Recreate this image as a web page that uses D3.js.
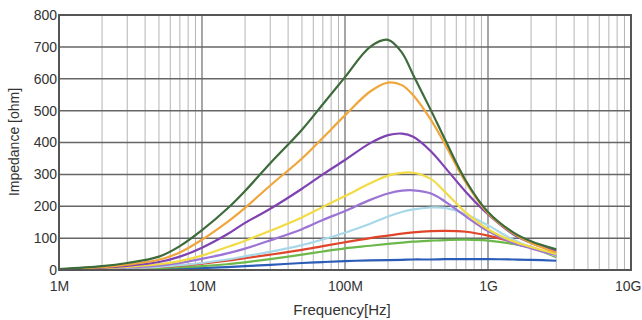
<!DOCTYPE html>
<html><head><meta charset="utf-8">
<script src="https://cdn.jsdelivr.net/npm/d3@7"></script>
<style>
html,body{margin:0;padding:0;background:#fff;}
svg{display:block;}
text{font-family:"Liberation Sans","Arial",sans-serif;fill:#333;}
</style></head>
<body>
<svg id="chart" width="642" height="320"></svg>
<script>
// frequencies in MHz
const freqs = [1,2,3,5,7,10,15,20,30,50,70,100,150,200,250,300,400,500,700,1000,1500,2000,3000];
const darkGreen = [3,12,22,42,75,125,192,248,335,440,520,605,700,722,682,612,500,410,280,182,118,90,65];
const orange    = [2,9,17,32,55,95,150,195,265,350,415,485,560,588,580,548,470,395,275,178,115,85,55];
const purple    = [2,7,13,25,42,70,112,148,192,255,300,345,398,423,428,418,372,322,245,175,112,85,60];
const yellow    = [1,5,10,18,28,45,72,92,123,165,198,232,272,296,305,305,285,245,180,128,90,72,50];
const violet    = [1,4,8,14,22,35,52,67,93,128,157,185,220,240,249,250,240,215,168,122,85,68,47];
const lightBlue = [1,3,6,10,15,22,33,43,57,78,96,117,145,168,182,190,196,195,175,140,95,72,44];
const red       = [1,3,6,10,14,20,29,37,48,63,75,87,100,108,114,118,122,123,120,108,88,72,43];
const green     = [0,2,4,6,9,12,18,24,34,48,58,68,76,82,86,89,92,94,95,92,82,70,40];
const blue      = [0,1,2,3,4,6,9,12,16,22,25,28,30,31,32,33,33,34,34,34,33,32,29];

const seriesNames = ["blue","green","red","lightBlue","violet","yellow","purple","orange","darkGreen"];
const seriesValues = [blue,green,red,lightBlue,violet,yellow,purple,orange,darkGreen];
const seriesColors = ["#2a5cb8","#6cb84a","#e0452a","#a8d8e8","#9b74d6","#f2dc45","#7f42b2","#f0a63c","#3d6b3a"];

const xTickValues = [1,10,100,1000,10000];
const xTickLabels = ["1M","10M","100M","1G","10G"];
const yTickValues = [0,100,200,300,400,500,600,700,800];

(function(){
const svg = d3.select("#chart");
const mL = 59, mR = 631, mT = 15, mB = 270;
const x = d3.scaleLog().domain([1,10000]).range([mL,mR]);
const y = d3.scaleLinear().domain([0,800]).range([mB,mT]);

// minor vertical grid
const minors = [];
for (let d=1; d<10000; d*=10) for (let k=2;k<=9;k++) minors.push(d*k);
svg.append("g").selectAll("line").data(minors).join("line")
  .attr("x1",d=>x(d)).attr("x2",d=>x(d)).attr("y1",mT).attr("y2",mB)
  .attr("stroke","#b4b4b4").attr("stroke-width",1);
// major vertical grid
svg.append("g").selectAll("line").data(xTickValues).join("line")
  .attr("x1",d=>x(d)).attr("x2",d=>x(d)).attr("y1",mT).attr("y2",mB)
  .attr("stroke","#777").attr("stroke-width",1.3);
// horizontal grid
svg.append("g").selectAll("line").data(yTickValues).join("line")
  .attr("x1",mL).attr("x2",mR).attr("y1",d=>y(d)).attr("y2",d=>y(d))
  .attr("stroke","#666").attr("stroke-width",1.5);

// curves
const line = d3.line().x(d=>x(d[0])).y(d=>y(d[1])).curve(d3.curveCatmullRom.alpha(0.5));
seriesValues.forEach((vals,i)=>{
  svg.append("path").datum(freqs.map((f,j)=>[f,vals[j]]))
    .attr("d",line).attr("fill","none")
    .attr("stroke",seriesColors[i]).attr("stroke-width",2.2)
    .attr("class","s-"+seriesNames[i]);
});

// frame
svg.append("rect").attr("x",mL).attr("y",mT).attr("width",mR-mL).attr("height",mB-mT)
  .attr("fill","none").attr("stroke","#555").attr("stroke-width",2);

// axes labels
const yAxis = d3.axisLeft(y).tickValues(yTickValues).tickSize(0).tickPadding(2);
const gy = svg.append("g").attr("transform",`translate(${mL},0)`).call(yAxis);
gy.select(".domain").remove();
gy.selectAll("text").attr("font-size",14).attr("fill","#333").style("font-family","'Liberation Sans',Arial,sans-serif");

const xAxis = d3.axisBottom(x).tickValues(xTickValues).tickFormat((d,i)=>xTickLabels[i]).tickSize(0).tickPadding(11);
const gx = svg.append("g").attr("transform",`translate(0,${mB})`).call(xAxis);
gx.select(".domain").remove();
gx.selectAll("text").attr("font-size",14).attr("fill","#333").style("font-family","'Liberation Sans',Arial,sans-serif");
gx.selectAll("text").filter(d=>d===10000).attr("text-anchor","end").attr("x",641-mR);

svg.append("text").attr("x",342).attr("y",315).attr("text-anchor","middle")
  .attr("font-size",15).text("Frequency[Hz]");
svg.append("text").attr("transform","translate(19,142) rotate(-90)").attr("text-anchor","middle")
  .attr("font-size",14).text("Impedance [ohm]");
})();
</script>
</body></html>
